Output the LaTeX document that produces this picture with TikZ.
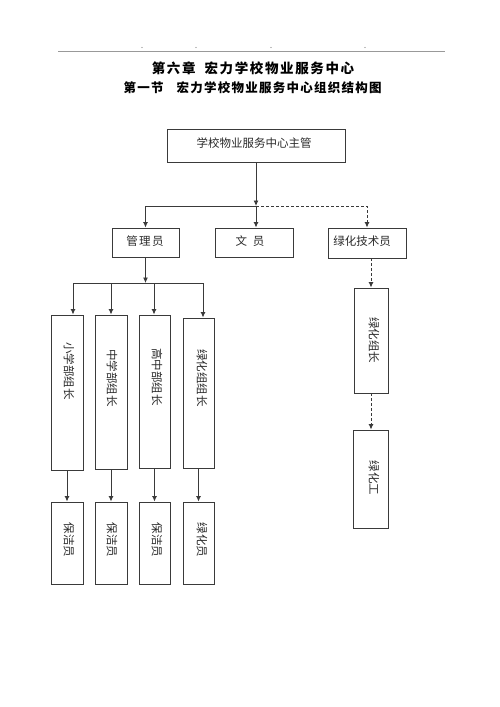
\documentclass[tikz,border=0pt]{standalone}
\usepackage{fontspec}
\newfontfamily\cjk{Noto Sans CJK SC}
\newfontfamily\cjkta[LetterSpace=12]{Noto Sans CJK SC}
\newfontfamily\cjktb[LetterSpace=10]{Noto Sans CJK SC}
\usetikzlibrary{arrows.meta}
\definecolor{ln}{HTML}{3A3A3A}
\definecolor{tx}{HTML}{2A2A2A}
\begin{document}
\begin{tikzpicture}[x=1pt,y=-1pt,
  box/.style={draw=ln,line width=0.9pt,inner sep=0pt,minimum width=#1},
  lbl/.style={text=tx,inner sep=0pt,font=\cjk\fontsize{11.5}{12}\selectfont},
  vlbl/.style={lbl,rotate=-90},
  arr/.style={draw=ln,line width=0.9pt,-{Latex[length=5.5pt,width=5pt]}},
  con/.style={draw=ln,line width=0.9pt},
  dsh/.style={arr,dash pattern=on 3pt off 2pt}]
\useasboundingbox (0,0) rectangle (500,707);
\fill[white] (0,0) rectangle (500,707);
% header rule and marks
\draw[draw=gray!80,line width=1.3pt] (58,51.5) -- (445,51.5);
\foreach \p in {142,196,271,365} \fill[gray] (\p,47.5) circle (0.6);
% titles
\node[text=black,inner sep=0pt,font=\cjkta\bfseries\fontsize{13.5}{16}\selectfont] (t1) at (253,68) {第六章\hspace{9pt}宏力学校物业服务中心};
\node[text=black,inner sep=0pt,font=\cjktb\bfseries\fontsize{12.5}{15}\selectfont] (t2) at (252.5,88) {第一节\hspace{13pt}宏力学校物业服务中心组织结构图};
% top
\node[box=178pt,minimum height=33pt] (top) at (256,145.5) {};
\node[lbl] (topl) at (254,143) {学校物业服务中心主管};
% second row
\node[box=67pt,minimum height=29pt] (mgr) at (145.5,242.5) {};
\node[lbl] (mgrl) at (145,241) {管\hspace{1.5pt}理\hspace{1.5pt}员};
\node[box=78pt,minimum height=29pt] (clerk) at (254,242.5) {};
\node[lbl] (clerkl) at (250,241) {文\hspace{6pt}员};
\node[box=78pt,minimum height=30pt] (tech) at (367,243) {};
\node[lbl] (techl) at (362,241) {绿化技术员};
% group leaders
\node[box=32pt,minimum height=155pt] (g1) at (67,392.5) {};
\node[vlbl] (g1l) at (69,371) {小学部组长};
\node[box=32pt,minimum height=154pt] (g2) at (111,392) {};
\node[vlbl] (g2l) at (112,378) {中学部组长};
\node[box=31pt,minimum height=153pt] (g3) at (154.5,391.5) {};
\node[vlbl] (g3l) at (157,377) {高中部组长};
\node[box=31pt,minimum height=150pt] (g4) at (198.5,393) {};
\node[vlbl] (g4l) at (202,378) {绿化组组长};
% bottom row
\node[box=32pt,minimum height=82pt] (c1) at (67,543) {};
\node[vlbl] (c1l) at (69,540) {保洁员};
\node[box=32pt,minimum height=82pt] (c2) at (111,543) {};
\node[vlbl] (c2l) at (112,540) {保洁员};
\node[box=31pt,minimum height=82pt] (c3) at (154.5,543) {};
\node[vlbl] (c3l) at (157,540) {保洁员};
\node[box=31pt,minimum height=82pt] (c4) at (198.5,543) {};
\node[vlbl] (c4l) at (202,540) {绿化员};
% green branch
\node[box=34pt,minimum height=105pt] (gr1) at (371,340.5) {};
\node[vlbl] (gr1l) at (374,340) {绿化组长};
\node[box=35pt,minimum height=98pt] (gr2) at (370.5,479) {};
\node[vlbl] (gr2l) at (374,478) {绿化工};
% junctions
\coordinate (j1) at (256,206);
\coordinate (j2) at (145.5,283);
\coordinate (b1) at (73,283);
\coordinate (b2) at (111,283);
\coordinate (b3) at (154,283);
\coordinate (b4) at (203,283);
% connectors
\draw[arr] (top.south) -- (j1);
\draw[arr] (j1) -| (mgr.north);
\draw[arr] (j1) -- (j1 |- clerk.north);
\draw[dsh] (j1) -| (tech.north);
\draw[arr] (mgr.south) -- (j2);
\draw[con] (b1) -- (b4);
\draw[arr] (b1) -- (b1 |- g1.north);
\draw[arr] (b2) -- (g2.north);
\draw[arr] (b3) -- (b3 |- g3.north);
\draw[arr] (b4) -- (b4 |- g4.north);
\draw[arr] (g1.south) -- (c1.north);
\draw[arr] (g2.south) -- (c2.north);
\draw[arr] (g3.south) -- (c3.north);
\draw[arr] (g4.south) -- (c4.north);
\draw[dsh] (tech.south -| gr1.north) -- (gr1.north);
\draw[dsh] (gr1.south) -- (gr1.south |- gr2.north);
\end{tikzpicture}
\end{document}
